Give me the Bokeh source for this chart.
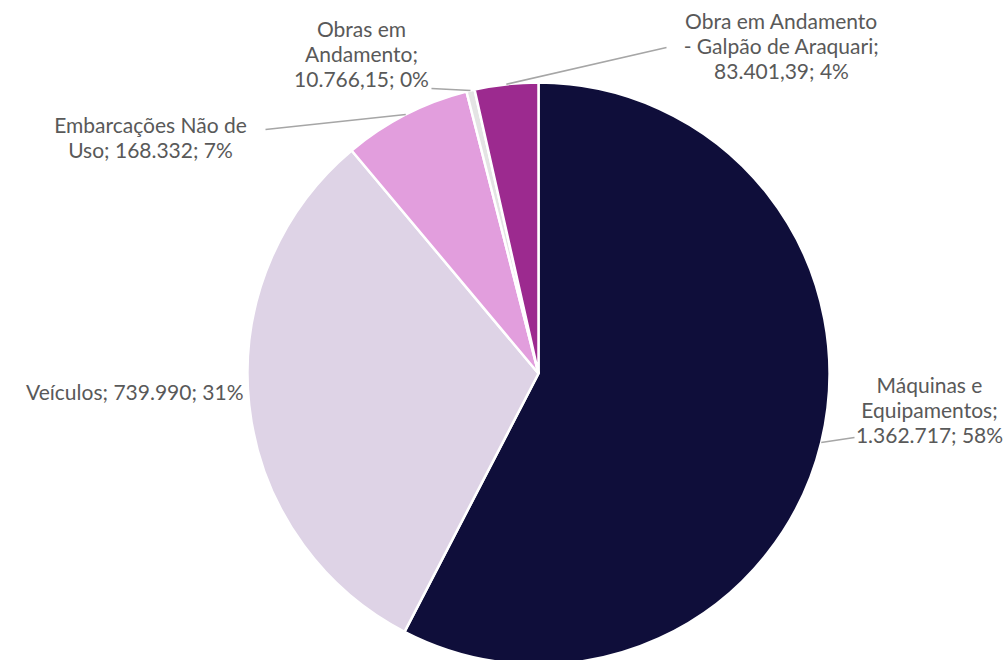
import math
from bokeh.plotting import figure
from bokeh.models import Range1d, ColumnDataSource
from bokeh.core.properties import value
from bokeh.embed import file_html
from bokeh.resources import INLINE

# ---- data ----
categories = ["Máquinas e Equipamentos", "Veículos", "Embarcações Não de Uso",
              "Obras em Andamento", "Obra em Andamento - Galpão de Araquari"]
values = [1362717, 739990, 168332, 10766.15, 83401.39]
label_lines = [
    ["Máquinas e", "Equipamentos;", "1.362.717; 58%"],
    ["Veículos; 739.990; 31%"],
    ["Embarcações Não de", "Uso; 168.332; 7%"],
    ["Obras em", "Andamento;", "10.766,15; 0%"],
    ["Obra em Andamento", "- Galpão de Araquari;", "83.401,39; 4%"],
]
colors = ["#0f0e3a", "#ded3e6", "#e29edd", "#e4e4e4", "#9c2a8f"]

# ---- layout (pixel coordinates, y measured from top) ----
W, H = 1008, 660
cx, cy, R = 538, 373, 291
FS = 21
LH = 25
font = "Lato"
# label block: (x anchor, first line center y, align)
label_pos = [
    (929, 384, "center"),
    (243, 391, "right"),
    (150, 124, "center"),
    (361, 28, "center"),
    (781, 20, "center"),
]
# leader line end points (label side), None for no leader
leader_end = [
    [(854, 437)],
    None,
    [(265, 129)],
    [(431, 88)],
    [(666, 47)],
]

def Y(py):
    return H - py

p = figure(width=W, height=H, output_backend="svg", toolbar_location=None,
           x_range=Range1d(0, W), y_range=Range1d(0, H), min_border=0,
           outline_line_color=None, background_fill_color="white",
           border_fill_color="white")
p.axis.visible = False
p.grid.visible = False

total = sum(values)
starts, ends, mids = [], [], []
c = 0.0
for v in values:
    f = v / total
    starts.append(math.pi / 2 - 2 * math.pi * c)
    ends.append(math.pi / 2 - 2 * math.pi * (c + f))
    mids.append(c + f / 2)
    c += f

src = ColumnDataSource(dict(start=starts, end=ends, color=colors, name=categories))
p.wedge(x=cx, y=Y(cy), radius=R, start_angle="start", end_angle="end",
        direction="clock", fill_color="color", line_color="white",
        line_width=2.5, source=src)

# leader lines
xs, ys = [], []
for i, pts in enumerate(leader_end):
    if pts is None:
        continue
    a = 2 * math.pi * mids[i]
    px = cx + R * math.sin(a)
    py = cy - R * math.cos(a)
    lx = [px] + [q[0] for q in pts]
    ly = [Y(py)] + [Y(q[1]) for q in pts]
    xs.append(lx)
    ys.append(ly)
p.multi_line(xs=xs, ys=ys, line_color="#a6a6a6", line_width=1.6)

# labels
tx, ty, tt, ta = [], [], [], []
for i, lines in enumerate(label_lines):
    x0, y0, al = label_pos[i]
    for j, t in enumerate(lines):
        tx.append(x0)
        ty.append(Y(y0 + j * LH))
        tt.append(t)
        ta.append(al)
p.text(x=tx, y=ty, text=tt, text_align=ta, text_baseline="middle",
       text_font=value(font), text_font_size=value(f"{FS}px"),
       text_color="#595959")

open("out.html", "w").write(file_html(p, INLINE))
